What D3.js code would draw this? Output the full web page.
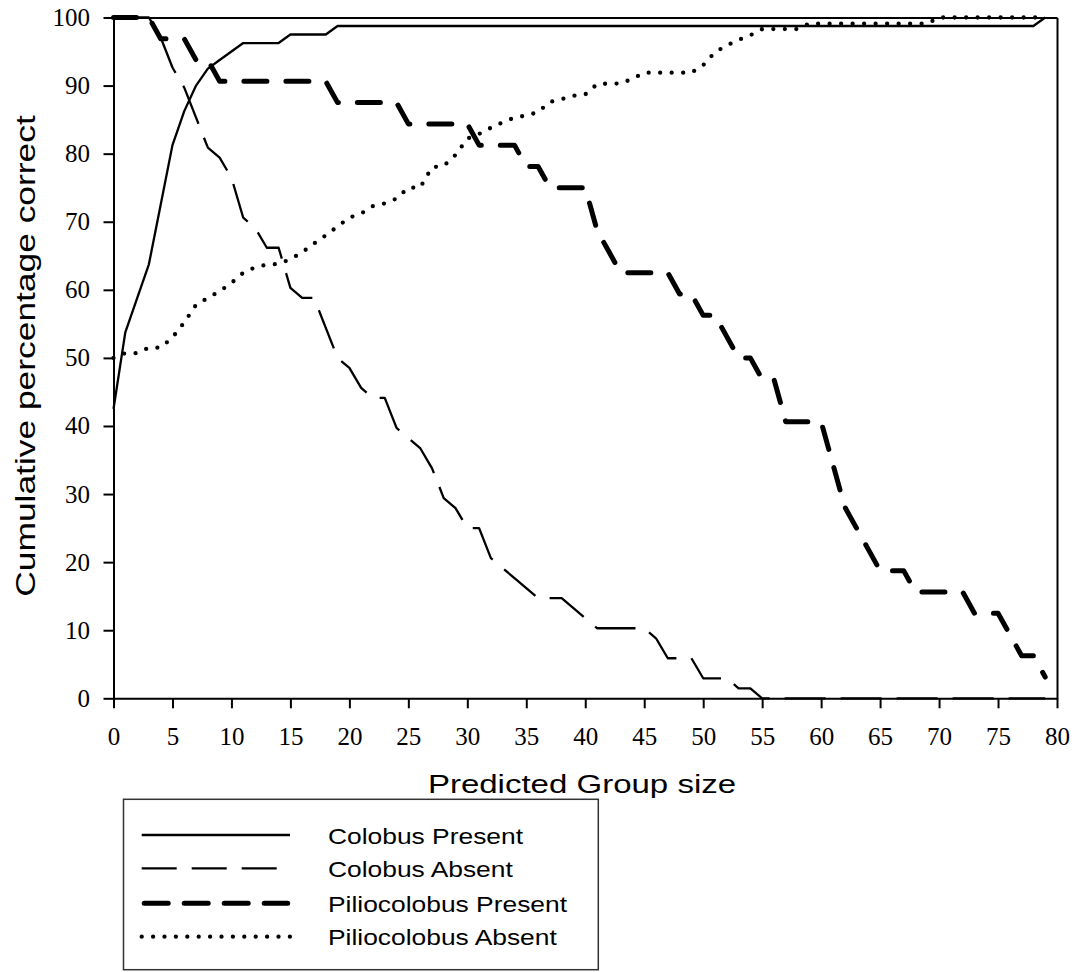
<!DOCTYPE html>
<html>
<head>
<meta charset="utf-8">
<script src="https://cdn.jsdelivr.net/npm/d3@7/dist/d3.min.js"></script>
<style>
html,body{margin:0;padding:0;background:#fff;}
svg{display:block;}
</style>
</head>
<body>
<svg id="chart" width="1077" height="972"></svg>
<script>
// ---------- data ----------
const groupSizes = d3.range(0, 80); // predicted group size 0..79

const colobusPresent = [42.5,53.75,58.75,63.75,72.5,81.25,86.25,90,92.5,93.75,95,96.25,96.25,96.25,96.25,97.5,97.5,97.5,97.5,
  98.75,98.75,98.75,98.75,98.75,98.75,98.75,98.75,98.75,98.75,98.75,98.75,98.75,98.75,98.75,98.75,98.75,98.75,98.75,98.75,
  98.75,98.75,98.75,98.75,98.75,98.75,98.75,98.75,98.75,98.75,98.75,98.75,98.75,98.75,98.75,98.75,98.75,98.75,98.75,98.75,
  98.75,98.75,98.75,98.75,98.75,98.75,98.75,98.75,98.75,98.75,98.75,98.75,98.75,98.75,98.75,98.75,98.75,98.75,98.75,98.75,100];

const colobusAbsent = [100,100,100,100,97.06,92.65,89.71,85.29,80.88,79.41,76.47,70.59,69.12,66.18,66.18,60.29,58.82,58.82,54.41,50.0,
  48.53,45.59,44.12,44.12,39.71,38.24,36.76,33.82,29.41,27.94,25.0,25.0,20.59,19.12,17.65,16.18,14.71,14.71,14.71,13.24,
  11.76,10.29,10.29,10.29,10.29,10.29,8.82,5.88,5.88,5.88,2.94,2.94,2.94,1.47,1.47,0,0,0,0,0,
  0,0,0,0,0,0,0,0,0,0,0,0,0,0,0,0,0,0,0,0];

const pilioPresent = [100,100,100,100,96.875,96.875,96.875,93.75,93.75,90.625,90.625,90.625,90.625,90.625,90.625,90.625,90.625,90.625,90.625,87.5,
  87.5,87.5,87.5,87.5,87.5,84.375,84.375,84.375,84.375,84.375,84.375,81.25,81.25,81.25,81.25,78.125,78.125,75,75,75,
  75,68.75,65.625,62.5,62.5,62.5,62.5,62.5,59.375,59.375,56.25,56.25,53.125,50,50,46.875,46.875,40.625,40.625,40.625,
  40.625,34.375,28.125,25,21.875,18.75,18.75,18.75,15.625,15.625,15.625,15.625,15.625,12.5,12.5,12.5,9.375,6.25,6.25,3.125];

const pilioAbsent = [50.0,50.7,50.7,51.5,51.5,53.0,55.2,57.8,58.8,59.8,61.0,62.5,63.3,63.7,63.8,64.5,65.5,66.8,68.0,69.3,
  70.6,71.2,72.3,72.7,73.4,75.0,75.0,78.0,78.2,79.8,82.2,82.9,83.8,84.6,85.3,85.6,86.1,87.6,88.0,88.5,
  88.7,90.2,90.3,90.3,91.0,91.9,91.9,91.9,91.9,91.9,93.0,94.9,95.9,96.7,97.4,98.3,98.3,98.3,98.3,99.1,
  99.1,99.1,99.1,99.1,99.1,99.1,99.1,99.1,99.1,99.1,100,100,100,100,100,100,100,100,100,100];

const seriesNames = ["Colobus Present","Colobus Absent","Piliocolobus Present","Piliocolobus Absent"];
const xTicks = [0,5,10,15,20,25,30,35,40,45,50,55,60,65,70,75,80];
const yTicks = [0,10,20,30,40,50,60,70,80,90,100];
const xTitle = "Predicted Group size";
const yTitle = "Cumulative percentage correct";

// ---------- styles ----------
const styles = [
  {w:2.3, dash:null, cap:"butt", legDash:null, x1:141.7, x2:290},
  {w:2.3, dash:"41,15", cap:"butt", legDash:"35,15", x1:141.7, x2:290},
  {w:5, dash:"23,19", cap:"round", legDash:"24,16", x1:144.2, x2:287.7},
  {w:4.3, dash:"0,11.5", cap:"round", legDash:"0,11.4", x1:141.7, x2:290}
];
const seriesData = [colobusPresent, colobusAbsent, pilioPresent, pilioAbsent];

// ---------- chart ----------
const svg = d3.select("#chart");
const x = d3.scaleLinear().domain([0,80]).range([113.5,1057]);
const y = d3.scaleLinear().domain([0,100]).range([698.3,17.5]);

const serif = "Liberation Serif, Times New Roman, serif";
const sans = "Liberation Sans, Arial, Helvetica, sans-serif";

// lines
const line = d3.line().x((d,i)=>x(groupSizes[i])).y(d=>y(d));
seriesData.forEach((data,k)=>{
  const s = styles[k];
  svg.append("path")
    .datum(data)
    .attr("d", line)
    .attr("fill","none")
    .attr("stroke","#000")
    .attr("stroke-width", s.w)
    .attr("stroke-linecap", s.cap)
    .attr("stroke-linejoin","round")
    .attr("stroke-dasharray", s.dash);
});

// axes
const gx = svg.append("g").attr("transform",`translate(0,${y(0)})`)
  .call(d3.axisBottom(x).tickValues(xTicks).tickSize(10).tickSizeOuter(0).tickPadding(19));
const gy = svg.append("g").attr("transform",`translate(${x(0)},0)`)
  .call(d3.axisLeft(y).tickValues(yTicks).tickSize(10).tickSizeOuter(0).tickPadding(13.5));
[gx,gy].forEach(g=>{
  g.attr("font-family", serif).attr("font-size", 25);
  g.select(".domain").attr("stroke","#000").attr("stroke-width",2);
  g.selectAll(".tick line").attr("stroke","#000").attr("stroke-width",2);
  g.selectAll(".tick text").attr("fill","#000")
    .attr("font-family", serif).style("font-family",serif).style("font-size","25px");
});
// frame top/right
const gt = svg.append("g").attr("transform",`translate(0,${y(100)})`)
  .call(d3.axisTop(x).tickValues([]).tickSizeOuter(0));
const gr = svg.append("g").attr("transform",`translate(${x(80)},0)`)
  .call(d3.axisRight(y).tickValues([]).tickSizeOuter(0));
[gt,gr].forEach(g=>g.select(".domain").attr("stroke","#000").attr("stroke-width",2));

// axis titles
svg.append("text")
  .attr("transform","translate(582,793) scale(1.27,1)")
  .attr("text-anchor","middle")
  .style("font-family",sans).style("font-size","26px")
  .text(xTitle);
svg.append("text")
  .attr("transform","translate(35,356) rotate(-90) scale(1.31,1)")
  .attr("text-anchor","middle")
  .style("font-family",sans).style("font-size","27px")
  .text(yTitle);

// legend
const leg = svg.append("g");
leg.append("rect").attr("x",123.5).attr("y",799.3).attr("width",474.8).attr("height",170.4)
  .attr("fill","#fff").attr("stroke","#333").attr("stroke-width",1.5);
const rowY = [835,868.3,903.3,936.7];
seriesNames.forEach((name,k)=>{
  const s = styles[k];
  leg.append("line")
    .attr("x1",s.x1).attr("x2",s.x2).attr("y1",rowY[k]).attr("y2",rowY[k])
    .attr("stroke","#000").attr("stroke-width",s.w)
    .attr("stroke-linecap",s.cap).attr("stroke-dasharray",s.legDash);
  leg.append("text")
    .attr("transform",`translate(328,${rowY[k]+8.7}) scale(1.2,1)`)
    .style("font-family",sans).style("font-size","22px")
    .text(name);
});
</script>
</body>
</html>
